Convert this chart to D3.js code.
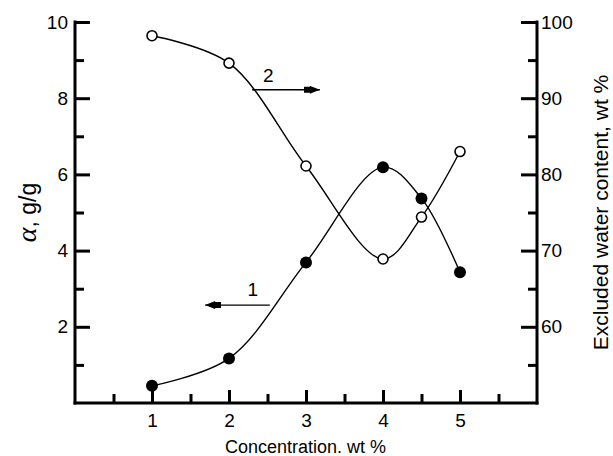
<!DOCTYPE html>
<html>
<head>
<meta charset="utf-8">
<script src="https://cdn.jsdelivr.net/npm/d3@7"></script>
<style>
  html, body { margin: 0; padding: 0; background: #fff; }
  svg text { font-family: "Liberation Sans", Arial, sans-serif; fill: #000; }
</style>
</head>
<body>
<svg id="chart" width="613" height="456"></svg>
<script>
// curve 1: absorbency alpha (left axis), filled markers
const conc1  = [1, 2, 3, 4, 4.5, 5]
const alpha1 = [0.45, 1.17, 3.69, 6.19, 5.37, 3.43]
// curve 2: excluded water content (right axis), open markers
const conc2  = [1, 2, 3, 4, 4.5, 5]
const water2 = [98.2, 94.6, 81.1, 68.9, 74.4, 83.0]

const xMajor = [1, 2, 3, 4, 5]
const xMinor = [0.5, 1.5, 2.5, 3.5, 4.5, 5.5]
const yLeftMajor  = [2, 4, 6, 8, 10]
const yLeftMinor  = [1, 3, 5, 7, 9]
const yRightMajor = [60, 70, 80, 90, 100]
const yRightMinor = [55, 65, 75, 85, 95]

const margin = { left: 75, right: 76, top: 22, bottom: 53 }
const W = 613, H = 456
const svg = d3.select('#chart')

const x  = d3.scaleLinear().domain([0, 6]).range([margin.left, W - margin.right])
const yL = d3.scaleLinear().domain([0, 10]).range([H - margin.bottom, margin.top])
const yR = d3.scaleLinear().domain([50, 100]).range([H - margin.bottom, margin.top])

function styleAxis(g) {
  g.attr('font-family', null).attr('font-size', null)
  g.selectAll('.domain').attr('stroke', '#000').attr('stroke-width', 3)
  g.selectAll('.tick line').attr('stroke', '#000').attr('stroke-width', 3)
  g.selectAll('.tick text').style('font-size', '19px')
}

// minor ticks first (no labels)
svg.append('g').attr('transform', `translate(0,${yL(0)})`)
  .call(d3.axisBottom(x).tickValues(xMinor).tickSize(-9).tickFormat('').tickSizeOuter(0))
  .call(g => { styleAxis(g); g.select('.domain').remove() })
svg.append('g').attr('transform', `translate(${x(0)},0)`)
  .call(d3.axisLeft(yL).tickValues(yLeftMinor).tickSize(-9).tickFormat('').tickSizeOuter(0))
  .call(g => { styleAxis(g); g.select('.domain').remove() })
svg.append('g').attr('transform', `translate(${x(6)},0)`)
  .call(d3.axisRight(yR).tickValues(yRightMinor).tickSize(-9).tickFormat('').tickSizeOuter(0))
  .call(g => { styleAxis(g); g.select('.domain').remove() })

// major ticks with labels
svg.append('g').attr('transform', `translate(0,${yL(0)})`)
  .call(d3.axisBottom(x).tickValues(xMajor).tickSize(-13).tickPadding(11).tickFormat(d3.format('d')).tickSizeOuter(0))
  .call(g => styleAxis(g))
  .call(g => g.select('.domain').attr('d', `M${x(0) - 1.5},0H${x(6) + 1.5}`))
svg.append('g').attr('transform', `translate(${x(0)},0)`)
  .call(d3.axisLeft(yL).tickValues(yLeftMajor).tickSize(-15).tickPadding(7).tickSizeOuter(0))
  .call(g => styleAxis(g))
  .call(g => g.select('.domain').attr('d', `M0,${yL(10) - 1.5}V${yL(0) + 1.5}`))
svg.append('g').attr('transform', `translate(${x(6)},0)`)
  .call(d3.axisRight(yR).tickValues(yRightMajor).tickSize(-16).tickPadding(4).tickSizeOuter(0))
  .call(g => styleAxis(g))
  .call(g => g.select('.domain').attr('d', `M0,${yR(100) - 1.5}V${yR(50) + 1.5}`))

// axis titles
svg.append('text')
  .attr('transform', `translate(${W / 2 - 1},${H - 3})`)
  .attr('text-anchor', 'middle').style('font-size', '18px')
  .text('Concentration. wt %')

const yTitle = svg.append('text')
  .attr('transform', `translate(36,${(yL(0) + yL(10)) / 2}) rotate(-90)`)
  .attr('text-anchor', 'middle').style('font-size', '23px')
yTitle.append('tspan').style('font-style', 'italic').style('font-family', '"Liberation Serif", serif').style('font-size', '28px').text('α')
yTitle.append('tspan').text(', g/g')

svg.append('text')
  .attr('transform', `translate(608,${(yR(50) + yR(100)) / 2}) rotate(-90)`)
  .attr('text-anchor', 'middle').style('font-size', '21px')
  .text('Excluded water content, wt %')

// curves
const line1 = d3.line().x((d, i) => x(conc1[i])).y(d => yL(d)).curve(d3.curveCatmullRom.alpha(0.5))
const line2 = d3.line().x((d, i) => x(conc2[i])).y(d => yR(d)).curve(d3.curveCatmullRom.alpha(0.5))

svg.append('path').attr('d', line2(water2))
  .attr('fill', 'none').attr('stroke', '#000').attr('stroke-width', 1.4)
svg.append('path').attr('d', line1(alpha1))
  .attr('fill', 'none').attr('stroke', '#000').attr('stroke-width', 1.4)

svg.append('g').selectAll('circle').data(water2).enter().append('circle')
  .attr('cx', (d, i) => x(conc2[i])).attr('cy', d => yR(d)).attr('r', 5)
  .attr('fill', '#fff').attr('stroke', '#000').attr('stroke-width', 1.6)
svg.append('g').selectAll('circle').data(alpha1).enter().append('circle')
  .attr('cx', (d, i) => x(conc1[i])).attr('cy', d => yL(d)).attr('r', 6)
  .attr('fill', '#000')

// curve labels with arrows pointing at their axis
svg.append('defs').append('marker')
  .attr('id', 'arrow').attr('viewBox', '0 -4 16 8')
  .attr('refX', 16).attr('refY', 0)
  .attr('markerWidth', 16).attr('markerHeight', 8)
  .attr('markerUnits', 'userSpaceOnUse').attr('orient', 'auto')
  .append('path').attr('d', 'M0,-3L6,-3L6,-4L16,0L6,4L6,3L0,3Z').attr('fill', '#000')

// label 2 is in right-axis units, label 1 in left-axis units
const label2 = { name: '2', from: [2.3, 91.1], to: [3.18, 91.1], text: [2.51, 92.1] }
const label1 = { name: '1', from: [2.53, 2.57], to: [1.69, 2.57], text: [2.31, 2.8] }

svg.append('line')
  .attr('x1', x(label2.from[0])).attr('y1', yR(label2.from[1]))
  .attr('x2', x(label2.to[0])).attr('y2', yR(label2.to[1]))
  .attr('stroke', '#000').attr('stroke-width', 1.4).attr('marker-end', 'url(#arrow)')
svg.append('text').attr('x', x(label2.text[0])).attr('y', yR(label2.text[1]))
  .attr('text-anchor', 'middle').style('font-size', '19px').text(label2.name)
svg.append('line')
  .attr('x1', x(label1.from[0])).attr('y1', yL(label1.from[1]))
  .attr('x2', x(label1.to[0])).attr('y2', yL(label1.to[1]))
  .attr('stroke', '#000').attr('stroke-width', 1.4).attr('marker-end', 'url(#arrow)')
svg.append('text').attr('x', x(label1.text[0])).attr('y', yL(label1.text[1]))
  .attr('text-anchor', 'middle').style('font-size', '19px').text(label1.name)
</script>
</body>
</html>
